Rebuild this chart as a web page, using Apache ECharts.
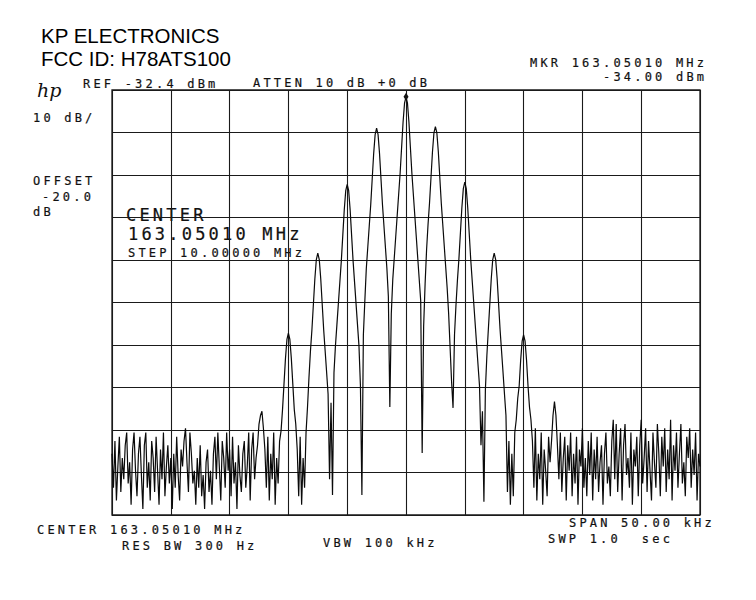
<!DOCTYPE html>
<html><head><meta charset="utf-8">
<script src="https://cdn.jsdelivr.net/npm/echarts@6/dist/echarts.min.js"></script>
<style>
html,body{margin:0;padding:0;background:#fff;}
#chart{width:756px;height:600px;}
#chart text[style*="Mono"], #chart text[font-family*="Mono"]{letter-spacing:3.2px;}
</style></head><body><div id="chart"></div>
<script>
// ---- instrument settings ----
const REF_LEVEL_DBM = -32.4;   // top graticule line
const DB_PER_DIV = 10;
const START_KHZ = -25;         // offset from centre frequency
const STOP_KHZ = 25;
const STEP_KHZ = 0.125;        // 401-point sweep over 50 kHz
const MARKER = [0, -34.0];     // kHz offset, dBm

// ---- trace, dBm (401 points) ----
const TRACE_LOW_LEFT = [
-118,-126,-115,-129,-121,-114,-127,-119,-124,-116,
-113,-125,-120,-130,-117,-113,-122,-128,-118,-114,
-123,-131,-116,-113,-126,-120,-129,-115,-119,-127,
-114,-122,-130,-117,-124,-113,-128,-121,-116,-125,
-119,-131,-118,-126,-114,-123,-129,-117,-121,-115,
-112,-120,-127,-113,-118,-125,-122,-130,-119,-126,
-116,-128,-123,-131,-120,-117,-127,-122,-130,-118,
-114,-124,-113,-121,-129,-115,-119,-126,-113,-122,
-117,-128,-114,-125,-120,-131,-116,-123,-127,-118,
-115,-126,-121,-113,-129,-117,-113,-124,-119,-116];
const TRACE_LOWER_SIDEBANDS = [
-111,-109,-108,-112,-117,-126,-114,-129,-118,-124,
-113,-130,-119,-125,-115,-112.6,-107.6,-101.6,-95.6,-91.1,
-89.6,-91.1,-95.6,-101.6,-107.6,-111,-117,-128,-114,-130,
-119,-126,-113,-107,-100,-93.8,-88.8,-82.8,-76.8,-72.3,
-70.8,-72.3,-76.8,-82.8,-88.8,-93.8,-98.8,-104,-124,-106,
-127.7,-99,-92.6,-87.6,-82.6,-77.6,-72.6,-66.6,-60.6,-56.1,
-54.6,-56.1,-60.6,-66.6,-72.6,-77.6,-82.6,-87.6,-92.6,-102,
-127.7,-90,-82,-74.4,-69.4,-64.4,-59.4,-53.4,-47.4,-42.9,
-41.4,-42.9,-47.4,-53.4,-59.4,-64.4,-69.4,-74.4,-81,-107,
-85,-77,-72,-67,-62,-57,-52,-46,-40,-35.5];
const TRACE_UPPER_SIDEBANDS = [
-34,-35.5,-40,-46,-52,-57,-62,-67,-72,-77,
-82,-117.8,-88,-78,-70,-64,-59,-53,-47,-42.5,
-41,-42.5,-47,-53,-59,-64,-69,-74,-79,-85,
-93,-101,-107.2,-90,-83,-77.1,-72.1,-66.1,-60.1,-55.6,
-54.1,-55.6,-60.1,-66.1,-72.1,-77.1,-82.1,-87.1,-92.1,-97.1,
-102,-116,-108,-129.3,-103,-95,-88.8,-82.8,-76.8,-72.3,
-70.8,-72.3,-76.8,-82.8,-88.8,-93.8,-98.8,-104,-109,-127,
-115,-130,-118,-128,-113,-110,-105,-102,-96,-91.5,
-90,-91.5,-96,-102,-107,-110,-115,-126,-112,-129,
-118,-124,-113,-130,-117,-122,-128,-114,-120,-115];
const TRACE_LOW_RIGHT = [
-109,-105.7,-109,-116,-124,-113,-127,-119,-114,-129,
-116,-122,-113,-128,-118,-125,-114,-130,-117,-121,
-112,-126,-119,-128,-115,-123,-113,-129,-117,-124,
-114,-127,-120,-116,-130,-118,-113,-125,-121,-128,
-115,-110,-124,-111,-127,-118,-112,-129,-116,-111,
-123,-119,-126,-113,-130,-117,-121,-114,-128,-116,
-110,-125,-119,-112,-127,-115,-122,-129,-113,-120,
-126,-111,-118,-128,-114,-121,-112,-127,-117,-124,
-110,-129,-116,-122,-113,-126,-118,-111,-125,-120,
-128,-114,-119,-112,-126,-117,-123,-113,-129,-118,
-121];

// ---- texts ----
const TITLE_LINES = ['KP ELECTRONICS', 'FCC ID: H78ATS100'];
const LOGO = 'hp';
const TOP_LABELS = ['REF -32.4 dBm', 'ATTEN 10 dB +0 dB', 'MKR 163.05010 MHz', '-34.00 dBm'];
const SIDE_LABELS = ['10 dB/', 'OFFSET', '-20.0', 'dB'];
const CENTER_LABELS = ['CENTER', '163.05010 MHz', 'STEP 10.00000 MHz'];
const BOTTOM_LABELS = ['CENTER 163.05010 MHz', 'RES BW 300 Hz', 'VBW 100 kHz', 'SPAN 50.00 kHz', 'SWP 1.0  sec'];

// ---- build ----
const TRACE = TRACE_LOW_LEFT.concat(TRACE_LOWER_SIDEBANDS, TRACE_UPPER_SIDEBANDS, TRACE_LOW_RIGHT);
const seriesData = TRACE.map((v, i) => [START_KHZ + i * STEP_KHZ, v - REF_LEVEL_DBM]);

const MONO = '"DejaVu Sans Mono", monospace';
const SANS = '"Liberation Sans", Arial, sans-serif';
const INK = '#111';
function txt(text, x, y, size, family, style) {
  return {
    type: 'text', silent: true,
    style: Object.assign({
      text: text, x: x, y: y, font: size + 'px ' + family, fill: INK,
      textAlign: 'left', textVerticalAlign: 'middle', align: 'left', verticalAlign: 'middle'
    }, style || {})
  };
}
const S = 12, L = 17;
const plot = {stroke: '#111', lineWidth: 0.2};
const graphics = [
  txt(TITLE_LINES[0], 41, 35, 20.5, SANS, {fill: '#000'}),
  txt(TITLE_LINES[1], 41, 58, 20.5, SANS, {fill: '#000'}),
  txt(LOGO, 37, 90, 19, '"DejaVu Serif", serif', {font: 'italic 19px "DejaVu Serif", serif'}),
  txt(TOP_LABELS[0], 83, 84, S, MONO, plot),
  txt(TOP_LABELS[1], 253, 83, S, MONO, plot),
  txt(TOP_LABELS[2], 530, 63, S, MONO, plot),
  txt(TOP_LABELS[3], 603, 77, S, MONO, plot),
  txt(SIDE_LABELS[0], 33, 118, S, MONO, plot),
  txt(SIDE_LABELS[1], 33, 181, S, MONO, plot),
  txt(SIDE_LABELS[2], 42, 197, S, MONO, plot),
  txt(SIDE_LABELS[3], 33, 212, S, MONO, plot),
  txt(CENTER_LABELS[0], 126, 215, L, MONO, plot),
  txt(CENTER_LABELS[1], 128, 234, L, MONO, plot),
  txt(CENTER_LABELS[2], 128, 253, S, MONO, plot),
  txt(BOTTOM_LABELS[0], 37, 530, S, MONO, plot),
  txt(BOTTOM_LABELS[1], 122, 546, S, MONO, plot),
  txt(BOTTOM_LABELS[2], 323, 543, S, MONO, plot),
  txt(BOTTOM_LABELS[3], 569, 523, S, MONO, plot),
  txt(BOTTOM_LABELS[4], 548, 539, S, MONO, plot)
];

const chart = echarts.init(document.getElementById('chart'), null, {renderer: 'svg'});
chart.setOption({
  backgroundColor: '#ffffff',
  animation: false,
  grid: {left: 112, right: 56, top: 90, bottom: 85, show: true, borderColor: '#1a1a1a', borderWidth: 1.3, containLabel: false},
  xAxis: {
    type: 'value', min: START_KHZ, max: STOP_KHZ, interval: 5,
    axisLine: {show: false}, axisTick: {show: false}, axisLabel: {show: false},
    splitLine: {show: true, lineStyle: {color: '#1a1a1a', width: 1.1}}
  },
  yAxis: {
    type: 'value', min: -10 * DB_PER_DIV, max: 0, interval: DB_PER_DIV,
    axisLine: {show: false}, axisTick: {show: false}, axisLabel: {show: false},
    splitLine: {show: true, lineStyle: {color: '#1a1a1a', width: 1.1}}
  },
  series: [{
    type: 'line', data: seriesData, showSymbol: false, symbol: 'none',
    lineStyle: {color: '#0a0a0a', width: 1.2}, clip: true,
    markPoint: {
      symbol: 'diamond', symbolSize: [5, 8], silent: true,
      itemStyle: {color: '#111'}, label: {show: false},
      data: [{coord: [MARKER[0], MARKER[1] - REF_LEVEL_DBM]}]
    }
  }],
  graphic: graphics
});
</script></body></html>
